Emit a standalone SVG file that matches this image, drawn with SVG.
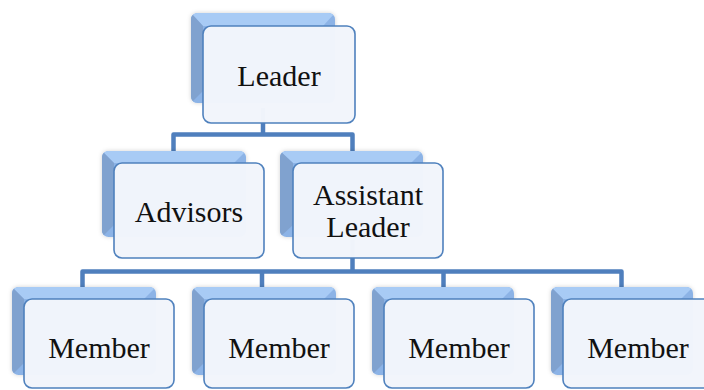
<svg xmlns="http://www.w3.org/2000/svg" width="704" height="390" viewBox="0 0 704 390">
<style>
.conn{fill:none;stroke:#4f7fbd;stroke-width:4.5;stroke-linejoin:round;stroke-linecap:butt}
.face{fill:#8cb3e6}
.top{fill:#a8cbf5}
.left{fill:#80a2cf}
.front{fill:#f2f5fb;fill-opacity:0.985;stroke:#4f81bd;stroke-width:1.6}
.lbl{font-family:"Liberation Serif","DejaVu Serif",serif;font-size:30px;fill:#111;text-anchor:middle}
.back{filter:url(#soft)}
</style>
<defs>
<clipPath id="bclip" clipPathUnits="objectBoundingBox">
<rect x="0" y="0" width="1" height="1" rx="0.045" ry="0.07"/>
</clipPath>
<filter id="soft" x="-10%" y="-10%" width="120%" height="120%">
<feGaussianBlur in="SourceAlpha" stdDeviation="2"/>
<feOffset dx="0" dy="0" result="b"/>
<feFlood flood-color="#000" flood-opacity="0.18"/>
<feComposite in2="b" operator="in" result="sh"/>
<feGaussianBlur in="SourceGraphic" stdDeviation="0.6" result="sg"/>
<feMerge><feMergeNode in="sh"/><feMergeNode in="sg"/></feMerge>
</filter>
</defs>
<rect width="704" height="390" fill="#fff"/>
<g id="connectors">
<path class="conn" d="M263,108 V134.5"/>
<path class="conn" d="M173.5,153 V134.5 H352.5 V153"/>
<path class="conn" d="M352.5,240 V271.5"/>
<path class="conn" d="M82.5,288 V271.5 H621.5 V288"/>
<path class="conn" d="M262,271.5 V288"/>
<path class="conn" d="M443.5,271.5 V288"/>
</g>
<g id="leader">
<g class="back"><g clip-path="url(#bclip)">
<rect class="face" x="191" y="13" width="144" height="90"/>
<polygon class="top" points="191,13 335,13 323,26 203,26"/>
<polygon class="left" points="191,13 203,26 203,91 191,103"/>
</g></g>
<rect class="front" x="203" y="26" width="152" height="97" rx="8"/>
<text class="lbl" x="279" y="86">Leader</text>
</g>
<g id="advisors">
<g class="back"><g clip-path="url(#bclip)">
<rect class="face" x="102" y="151" width="144" height="86"/>
<polygon class="top" points="102,151 246,151 234,163 114,163"/>
<polygon class="left" points="102,151 114,163 114,225 102,237"/>
</g></g>
<rect class="front" x="114" y="163" width="150" height="95" rx="8"/>
<text class="lbl" x="189" y="222">Advisors</text>
</g>
<g id="assistant">
<g class="back"><g clip-path="url(#bclip)">
<rect class="face" x="280" y="151" width="143" height="86"/>
<polygon class="top" points="280,151 423,151 411,163 293,163"/>
<polygon class="left" points="280,151 293,163 293,225 280,237"/>
</g></g>
<rect class="front" x="293" y="163" width="150" height="95" rx="8"/>
<text class="lbl" x="368" y="205">Assistant</text>
<text class="lbl" x="368" y="237">Leader</text>
</g>
<g id="member1">
<g class="back"><g clip-path="url(#bclip)">
<rect class="face" x="12" y="287" width="144" height="88"/>
<polygon class="top" points="12,287 156,287 144,299 24,299"/>
<polygon class="left" points="12,287 24,299 24,363 12,375"/>
</g></g>
<rect class="front" x="24" y="299" width="150" height="89" rx="8"/>
<text class="lbl" x="99" y="358">Member</text>
</g>
<g id="member2">
<g class="back"><g clip-path="url(#bclip)">
<rect class="face" x="192" y="287" width="144" height="88"/>
<polygon class="top" points="192,287 336,287 324,299 204,299"/>
<polygon class="left" points="192,287 204,299 204,363 192,375"/>
</g></g>
<rect class="front" x="204" y="299" width="150" height="89" rx="8"/>
<text class="lbl" x="279" y="358">Member</text>
</g>
<g id="member3">
<g class="back"><g clip-path="url(#bclip)">
<rect class="face" x="372" y="287" width="142" height="88"/>
<polygon class="top" points="372,287 514,287 502,299 384,299"/>
<polygon class="left" points="372,287 384,299 384,363 372,375"/>
</g></g>
<rect class="front" x="384" y="299" width="150" height="89" rx="8"/>
<text class="lbl" x="459" y="358">Member</text>
</g>
<g id="member4">
<g class="back"><g clip-path="url(#bclip)">
<rect class="face" x="551" y="287" width="142" height="88"/>
<polygon class="top" points="551,287 693,287 681,299 563,299"/>
<polygon class="left" points="551,287 563,299 563,363 551,375"/>
</g></g>
<rect class="front" x="563" y="299" width="150" height="89" rx="8"/>
<text class="lbl" x="638" y="358">Member</text>
</g>
</svg>
